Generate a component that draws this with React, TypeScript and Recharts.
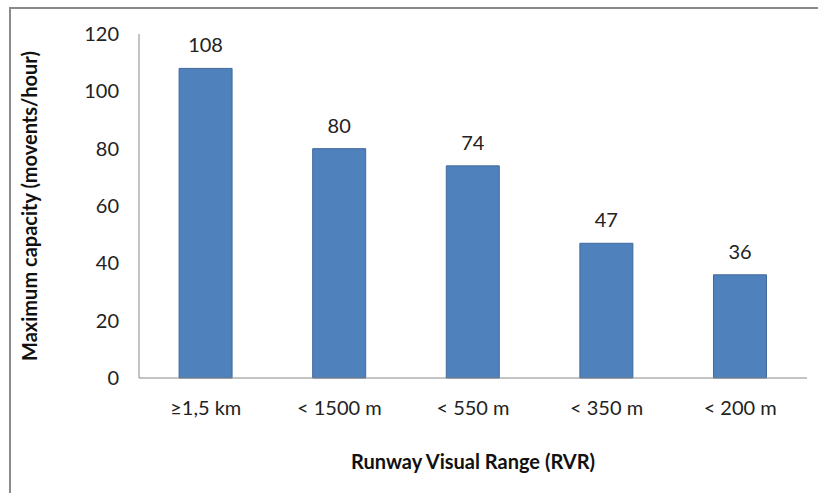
import React from 'react';
import { BarChart, Bar, XAxis, YAxis, LabelList, Label } from 'recharts';

const categories = ['≥1,5 km', '< 1500 m', '< 550 m', '< 350 m', '< 200 m'];
const capacity = [108, 80, 74, 47, 36];
const yTicks = [0, 20, 40, 60, 80, 100, 120];

const data = categories.map((rvr, i) => ({ rvr, capacity: capacity[i] }));

const font = 'Lato, "Open Sans", sans-serif';

const App: React.FC = () => {
  return (
    <div style={{ position: 'absolute', left: 0, top: 0, width: 818, height: 493, background: '#fff', fontFamily: font }}>
      {/* outer frame, only top and left edges visible */}
      <div
        style={{
          position: 'absolute',
          left: 9,
          top: 7,
          width: 809,
          height: 486,
          borderTop: '2px solid #8a8a8a',
          borderLeft: '2px solid #8a8a8a',
          boxSizing: 'border-box',
        }}
      />
      <BarChart
        width={818}
        height={493}
        data={data}
        margin={{ top: 34, right: 11, bottom: 0, left: 79 }}
        barCategoryGap="30%"
        style={{ position: 'absolute', left: 0, top: 0 }}
      >
        <XAxis
          dataKey="rvr"
          height={115}
          stroke="#888"
          tickLine={false}
          tickMargin={17}
          tick={{ fill: '#222', fontSize: 20, fontFamily: font }}
        >
          <Label
            value="Runway Visual Range (RVR)"
            position="insideBottom"
            offset={24}
            style={{ fill: '#111', fontSize: 20, fontWeight: 700, fontFamily: font }}
          />
        </XAxis>
        <YAxis
          width={60}
          domain={[0, 120]}
          ticks={yTicks}
          stroke="#888"
          tickLine={false}
          tickMargin={14}
          tick={{ fill: '#222', fontSize: 20, fontFamily: font }}
        >
          <Label
            value="Maximum capacity (movents/hour)"
            angle={-90}
            position="center"
            dx={-79}
            style={{ fill: '#111', fontSize: 20, fontWeight: 700, fontFamily: font, textAnchor: 'middle' }}
          />
        </YAxis>
        <Bar dataKey="capacity" fill="#4f81bd" stroke="#41699a" strokeWidth={1} isAnimationActive={false}>
          <LabelList
            dataKey="capacity"
            position="top"
            offset={16}
            style={{ fill: '#222', fontSize: 20, fontFamily: font }}
          />
        </Bar>
      </BarChart>
    </div>
  );
};

export default App;
